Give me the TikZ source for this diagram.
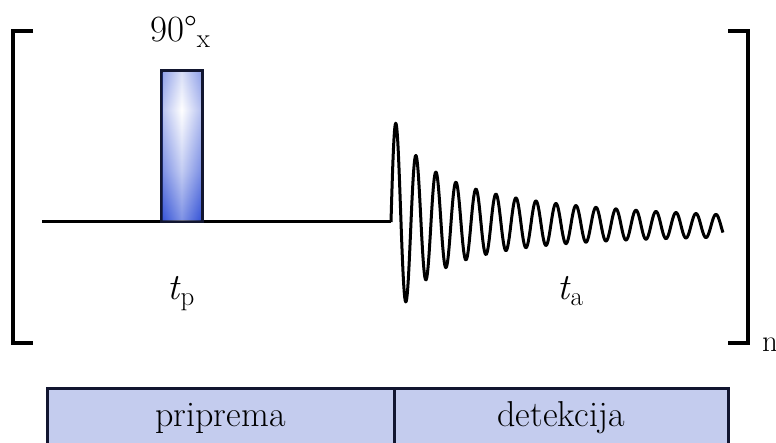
\documentclass[tikz,border=0pt]{standalone}
\usepackage{fontspec}
\usetikzlibrary{positioning}
\definecolor{pulse_blue}{RGB}{55,85,215}
\definecolor{phase_fill}{RGB}{196,204,238}
\definecolor{edge_navy}{RGB}{18,22,48}
\pgfdeclareverticalshading{pulse_shade}{100bp}{%
    color(0bp)=(pulse_blue); color(25bp)=(pulse_blue);
    color(42bp)=(pulse_blue!45!white); color(62bp)=(white);
    color(75bp)=(pulse_blue!30!white); color(100bp)=(pulse_blue!30!white)}
\newcommand{\lowsub}[1]{\raisebox{-0.14em}{\fontsize{27}{27}\selectfont #1}}
\tikzset{
    bracket/.style={
        line width=3.4pt
    },
    wire/.style={
        line width=3pt, line join=round
    },
    pulse/.style={
        rectangle, draw=edge_navy, line width=3pt,
        shade, shading=pulse_shade,
        minimum width=41pt, minimum height=151pt,
        inner sep=0pt, outer sep=0pt
    },
    phase/.style={
        rectangle, draw=edge_navy, line width=3pt, fill=phase_fill,
        minimum height=72pt, outer sep=0pt,
        text height=0.7em, text depth=0.25em,
        font=\fontsize{36}{40}\selectfont
    },
    txt/.style={
        font=\fontsize{37}{40}\selectfont, inner sep=0pt
    }
}

\begin{document}
\begin{tikzpicture}[x=1pt, y=-1pt]
    \useasboundingbox (0,0) rectangle (776,443);

    % --- Zagrade ---
    \draw[bracket] (33,31) -| (13,343) -- (33,343);
    \draw[bracket] (728,31) -| (748,343) -- (728,343);
    \node[txt, font=\fontsize{31}{31}\selectfont, anchor=base west] (reps) at (762,352) {n};

    % --- Osnovna linija ---
    \coordinate (line_start) at (42,222);
    \coordinate (fid_start) at (391,222);
    \draw[wire] (line_start) -- (fid_start);

    % --- Impuls ---
    \node[pulse] (pulse) at (181.5,146.5) {};
    \shade[left color=pulse_blue, right color=pulse_blue, middle color=white, opacity=0.35]
        ([shift={(1.5pt,1.5pt)}]pulse.south west) rectangle ([shift={(-1.5pt,-1.5pt)}]pulse.north east);
    \node[txt, anchor=base west] (flip) at (150,42) {90°\lowsub{x}};

    % --- FID signal ---
    \draw[wire] (fid_start) -- plot[domain=391:723, samples=700]
        (\x, {222 + 0.012*(\x-391) - 4140/(\x-354)*sin(18*(\x-391))});

    % --- Vremena ---
    \node[txt, anchor=base west] (t_prep) at (167,300) {\textit{t}\lowsub{p}};
    \node[txt, anchor=base west] (t_acq)  at (557,300) {\textit{t}\lowsub{a}};

    % --- Faze ---
    \node[phase, minimum width=347pt] (prep) at (220.5,424) {priprema};
    \node[phase, minimum width=334pt] (det)  at (561,424)   {detekcija};

\end{tikzpicture}
\end{document}
